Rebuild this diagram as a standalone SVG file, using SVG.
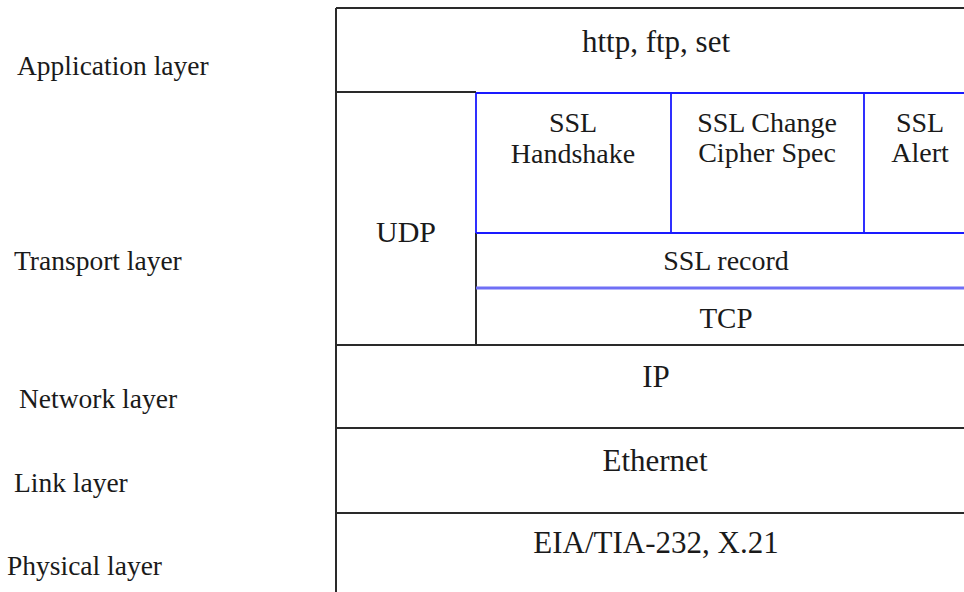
<svg xmlns="http://www.w3.org/2000/svg" width="964" height="592" viewBox="0 0 964 592">
<style>
text{font-family:"Times New Roman","Liberation Serif",Tinos,serif;fill:#1a1a1a}
.lbl{font-size:27.5px}
.big{font-size:31px;text-anchor:middle}
.ssl{font-size:28px;text-anchor:middle}
.blk{stroke:#2a2a2a;stroke-width:2;fill:none}
.blu{stroke:#1a1aff;stroke-width:1.8;fill:none}
.blu2{stroke:#6f6ff5;stroke-width:3;fill:none}
</style>
<rect width="964" height="592" fill="#fff"/>
<g id="labels" font-family="Liberation Serif, serif">
<text class="lbl" x="17" y="75">Application layer</text>
<text class="lbl" x="14" y="270">Transport layer</text>
<text class="lbl" x="19" y="408">Network layer</text>
<text class="lbl" x="14" y="492">Link layer</text>
<text class="lbl" x="7" y="575">Physical layer</text>
</g>
<g id="connectors">
<path class="blk" d="M336 8H970M336 8V592M336 92H476M476 233V345M336 345H970M336 428H970M336 513H970"/>
<path class="blu" d="M476 93H970M476 93V233M671 93V233M864 93V233M476 233H970"/>
<path class="blu2" d="M476 288H970"/>
</g>
<g id="app"><text class="big" x="656" y="52">http, ftp, set</text></g>
<g id="udp"><text class="big" x="406" y="242" style="font-size:30px">UDP</text></g>
<g id="ssl-handshake"><text class="ssl" x="573" y="132">SSL</text><text class="ssl" x="573" y="163">Handshake</text></g>
<g id="ssl-ccs"><text class="ssl" x="767" y="132">SSL Change</text><text class="ssl" x="767" y="162">Cipher Spec</text></g>
<g id="ssl-alert"><text class="ssl" x="920" y="132">SSL</text><text class="ssl" x="920" y="162">Alert</text></g>
<g id="ssl-record"><text class="ssl" x="726" y="270">SSL record</text></g>
<g id="tcp"><text class="big" x="726" y="328" style="font-size:29px">TCP</text></g>
<g id="ip"><text class="big" x="656" y="387">IP</text></g>
<g id="ethernet"><text class="big" x="655" y="471">Ethernet</text></g>
<g id="physical"><text class="big" x="656" y="553">EIA/TIA-232, X.21</text></g>
</svg>
